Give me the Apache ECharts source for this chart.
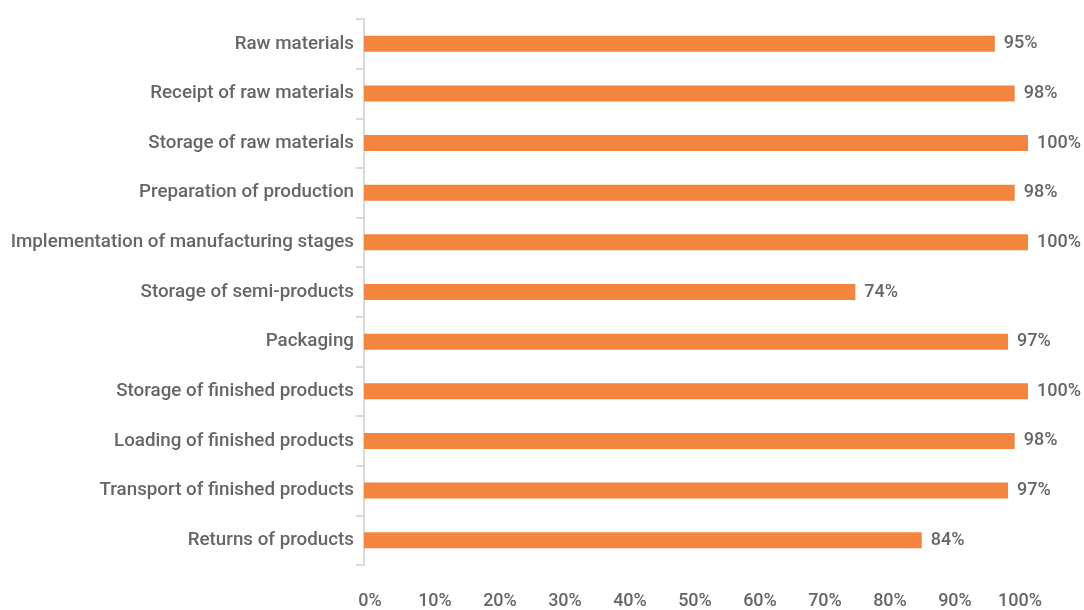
<!DOCTYPE html>
<html>
<head>
<meta charset="utf-8">
<style>
  html, body { margin: 0; padding: 0; background: #ffffff; }
  #chart { width: 1084px; height: 610px; }
</style>
<script src="https://cdn.jsdelivr.net/npm/echarts@6/dist/echarts.min.js"></script>
</head>
<body>
<div id="chart"></div>
<script>
// Share of stages covered, per stage of the production chain
const stages = [
  'Raw materials',
  'Receipt of raw materials',
  'Storage of raw materials',
  'Preparation of production',
  'Implementation of manufacturing stages',
  'Storage of semi-products',
  'Packaging',
  'Storage of finished products',
  'Loading of finished products',
  'Transport of finished products',
  'Returns of products'
];
const shares = [95, 98, 100, 98, 100, 74, 97, 100, 98, 97, 84];
const percentTicks = [0, 10, 20, 30, 40, 50, 60, 70, 80, 90, 100];

const textColor = '#666666';
const fontFamily = 'Roboto, "Noto Sans", sans-serif';
const textStyle = { color: textColor, fontFamily: fontFamily, fontSize: 18, fontWeight: 500 };

const chart = echarts.init(document.getElementById('chart'), null, { renderer: 'canvas' });
chart.setOption({
  animation: false,
  grid: [
    // plot area holding the bars
    { left: 364, right: 56, top: 19, bottom: 45, containLabel: false },
    // slightly narrower band carrying the percentage scale below the bars
    { left: 370, right: 64, top: 19, bottom: 45, containLabel: false }
  ],
  xAxis: [
    {
      gridIndex: 0,
      type: 'value',
      min: percentTicks[0],
      max: percentTicks[percentTicks.length - 1],
      interval: 10,
      axisLine: { show: false },
      axisTick: { show: false },
      splitLine: { show: false },
      axisLabel: { show: false }
    },
    {
      gridIndex: 1,
      type: 'value',
      min: percentTicks[0],
      max: percentTicks[percentTicks.length - 1],
      interval: 10,
      axisLine: { show: false },
      axisTick: { show: false },
      splitLine: { show: false },
      axisLabel: Object.assign({ margin: 27, formatter: v => v + '%' }, textStyle)
    }
  ],
  yAxis: [
    {
      gridIndex: 0,
      type: 'category',
      data: stages,
      inverse: true,
      axisLine: { show: true, lineStyle: { color: '#d9d9d9', width: 2 } },
      axisTick: { show: true, length: 8, lineStyle: { color: '#d9d9d9', width: 2 } },
      splitLine: { show: false },
      axisLabel: Object.assign({}, textStyle, { margin: 10, fontSize: 18.8 })
    },
    {
      gridIndex: 1,
      type: 'category',
      data: stages,
      show: false
    }
  ],
  series: [{
    type: 'bar',
    xAxisIndex: 0,
    yAxisIndex: 0,
    data: shares,
    barWidth: 16,
    itemStyle: { color: '#F4853E' },
    label: Object.assign({
      show: true,
      position: 'right',
      distance: 9,
      formatter: p => p.value + '%'
    }, textStyle)
  }]
});
</script>
</body>
</html>
